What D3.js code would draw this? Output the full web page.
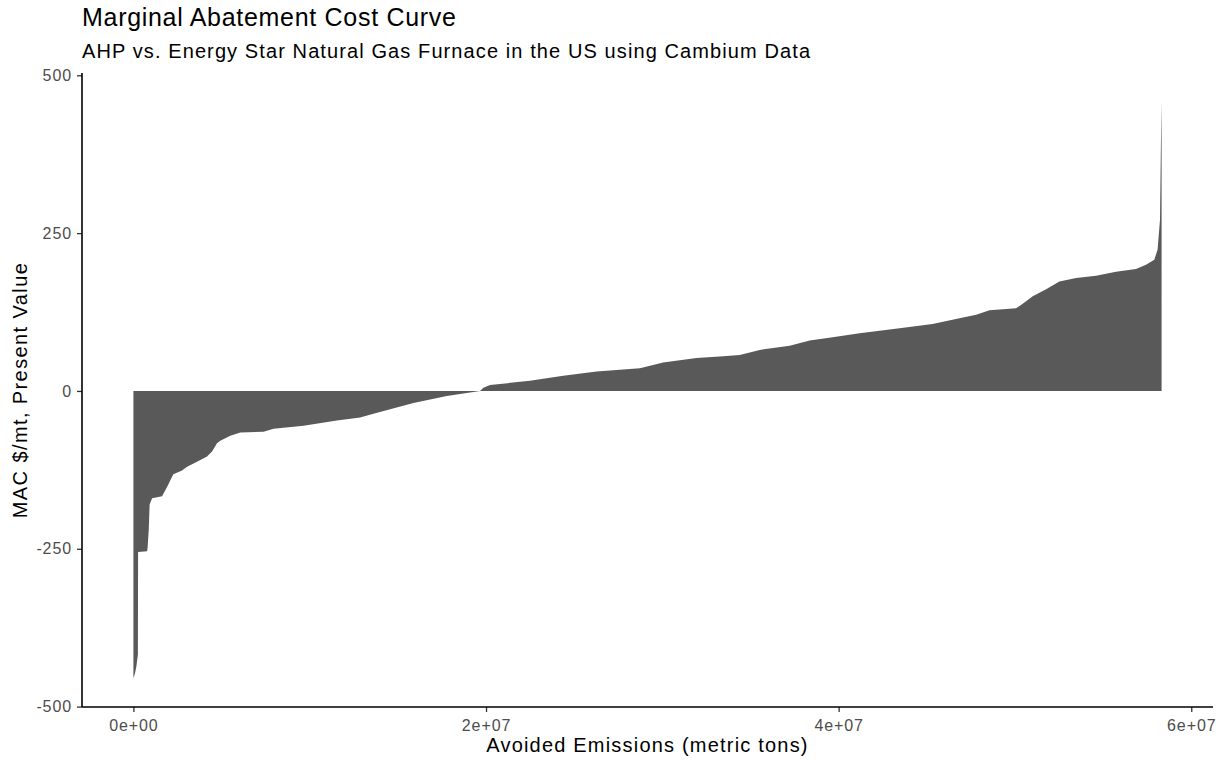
<!DOCTYPE html>
<html>
<head>
<meta charset="utf-8">
<script src="https://cdn.jsdelivr.net/npm/d3@7"></script>
<style>
  body { margin: 0; background: #ffffff; }
  svg { display: block; font-family: "Liberation Sans", Arial, sans-serif; }
</style>
</head>
<body>
<svg id="chart" width="1225" height="767"></svg>
<script>
// Cumulative avoided emissions (million metric tons) at each break in the curve
const cumEmissionsMt = [
  0, 0.085, 0.17, 0.244, 0.255, 0.265, 0.776, 0.80, 0.87, 0.92, 1.06,
  1.626, 1.909, 2.193, 2.266, 2.759, 3.042, 3.609, 4.176, 4.459, 4.742,
  4.929, 5.496, 6.062, 7.382, 7.949, 9.649, 11.541, 12.861, 13.615, 15.881,
  17.773, 19.66, 19.85, 20.227, 22.493, 24.38, 26.272, 28.725, 30.045,
  31.938, 33.258, 34.391, 35.524, 37.224, 38.357, 39.66, 41.19, 43.456,
  45.326, 46.856, 47.802, 48.555, 50.068, 50.442, 51.008, 51.768, 52.521,
  53.467, 54.601, 55.734, 56.867, 57.433, 57.904, 58.091, 58.227, 58.283,
  58.317
];
// Marginal abatement cost ($/mt, present value) at each break
const macValues = [
  -455, -448, -436, -420, -418, -255, -254, -250, -220, -180, -170,
  -167, -152, -136, -132, -126, -120, -112, -104, -96, -83,
  -79, -71, -66, -64.5, -60, -55, -47, -42, -36, -19,
  -8, 0, 5, 9.5, 16, 24, 31, 36, 45,
  52, 54.5, 57, 65, 71.5, 80, 85, 91.5, 99.5,
  106, 115, 120.6, 128, 131, 138, 150, 161, 173.5,
  179, 182.5, 189, 193, 200, 208, 224, 271, 400,
  458
];
const xTicks = [0, 2e7, 4e7, 6e7];
const xTickLabels = ["0e+00", "2e+07", "4e+07", "6e+07"];
const yTicks = [-500, -250, 0, 250, 500];
const yTickLabels = ["-500", "-250", "0", "250", "500"];

const titleText = "Marginal Abatement Cost Curve";
const subtitleText = "AHP vs. Energy Star Natural Gas Furnace in the US using Cambium Data";
const xTitle = "Avoided Emissions (metric tons)";
const yTitle = "MAC $/mt, Present Value";

const data = cumEmissionsMt.map((c, i) => ({ x: c * 1e6, y: macValues[i] }));

const panel = { left: 82, right: 1213, top: 73, bottom: 707 };

// ggplot-style 5% expansion of the data range
const xExt = d3.extent(data, d => d.x);
const yExt = d3.extent(data, d => d.y);
const xPad = (xExt[1] - xExt[0]) * 0.05;
const yPad = (yExt[1] - yExt[0]) * 0.05;

const x = d3.scaleLinear()
  .domain([xExt[0] - xPad, xExt[1] + xPad])
  .range([panel.left, panel.right]);
const y = d3.scaleLinear()
  .domain([yExt[0] - yPad, yExt[1] + yPad])
  .range([panel.bottom, panel.top]);

const svg = d3.select("#chart");

// Filled cost curve
const area = d3.area()
  .x(d => x(d.x))
  .y0(y(0))
  .y1(d => y(d.y));

svg.append("path")
  .datum(data)
  .attr("d", area)
  .attr("fill", "#595959");

// Axes
const xAxis = d3.axisBottom(x)
  .tickValues(xTicks)
  .tickFormat((d, i) => xTickLabels[i])
  .tickSize(5)
  .tickPadding(8);
const yAxis = d3.axisLeft(y)
  .tickValues(yTicks)
  .tickFormat((d, i) => yTickLabels[i])
  .tickSize(5)
  .tickPadding(5);

const gx = svg.append("g")
  .attr("transform", `translate(0,${panel.bottom})`)
  .call(xAxis);
const gy = svg.append("g")
  .attr("transform", `translate(${panel.left},0)`)
  .call(yAxis);

[gx, gy].forEach(g => {
  g.select(".domain").remove();
  g.selectAll(".tick line").attr("stroke", "#333333").attr("stroke-width", 1.3);
  g.selectAll(".tick text")
    .attr("fill", "#4d4d4d")
    .style("font-size", "16px")
    .style("letter-spacing", "0.9px")
    .style("font-family", "'Liberation Sans', Arial, sans-serif");
});

// Axis lines
svg.append("line")
  .attr("x1", panel.left).attr("x2", panel.right)
  .attr("y1", panel.bottom).attr("y2", panel.bottom)
  .attr("stroke", "#000").attr("stroke-width", 1.6);
svg.append("line")
  .attr("x1", panel.left).attr("x2", panel.left)
  .attr("y1", panel.top).attr("y2", panel.bottom)
  .attr("stroke", "#000").attr("stroke-width", 1.6);

// Titles
svg.append("text")
  .attr("x", panel.left).attr("y", 26)
  .attr("fill", "#000")
  .style("font-size", "25px")
  .style("letter-spacing", "0.7px")
  .text(titleText);
svg.append("text")
  .attr("x", panel.left).attr("y", 58)
  .attr("fill", "#000")
  .style("font-size", "20px")
  .style("letter-spacing", "1.1px")
  .text(subtitleText);

svg.append("text")
  .attr("x", (panel.left + panel.right) / 2).attr("y", 752)
  .attr("text-anchor", "middle")
  .attr("fill", "#000")
  .style("font-size", "20px")
  .style("letter-spacing", "1.2px")
  .text(xTitle);
svg.append("text")
  .attr("transform", `translate(27,${(panel.top + panel.bottom) / 2}) rotate(-90)`)
  .attr("text-anchor", "middle")
  .attr("fill", "#000")
  .style("font-size", "20px")
  .style("letter-spacing", "1.4px")
  .text(yTitle);
</script>
</body>
</html>
